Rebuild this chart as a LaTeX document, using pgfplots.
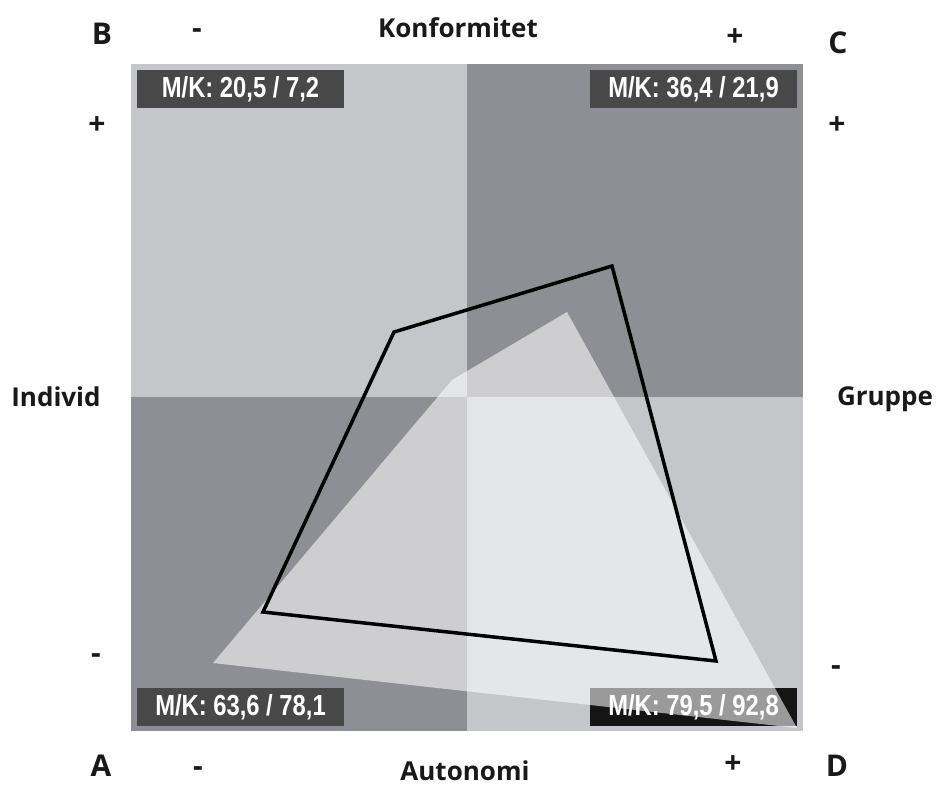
\documentclass[border=0pt]{standalone}
\usepackage{pgfplots}
\pgfplotsset{compat=1.18}
\usepackage{fontspec}
\setmainfont{Open Sans}
\newfontfamily\narrowfont[FakeStretch=0.82]{Liberation Sans}
\definecolor{lightq}{HTML}{C5C6CA}
\definecolor{darkq}{HTML}{8E8F94}
\definecolor{boxg}{HTML}{484848}
\definecolor{boxk}{HTML}{151515}
\begin{document}
\begin{tikzpicture}
\begin{axis}[width=941pt,height=785pt,scale only axis,
  xmin=0,xmax=941,ymin=0,ymax=785,y dir=reverse,hide axis,clip=false]
\path (rel axis cs:0,0) rectangle (rel axis cs:1,1);
% quadrants
\addplot[fill=lightq,draw=none] coordinates {(131,64)(467,64)(467,397)(131,397)} -- cycle;
\addplot[fill=darkq,draw=none] coordinates {(467,64)(803,64)(803,397)(467,397)} -- cycle;
\addplot[fill=darkq,draw=none] coordinates {(131,397)(467,397)(467,731)(131,731)} -- cycle;
\addplot[fill=lightq,draw=none] coordinates {(467,397)(803,397)(803,731)(467,731)} -- cycle;
% label boxes
\addplot[fill=boxg,draw=none] coordinates {(137,70)(344,70)(344,108)(137,108)} -- cycle;
\addplot[fill=boxg,draw=none] coordinates {(590,70)(797,70)(797,108)(590,108)} -- cycle;
\addplot[fill=boxg,draw=none] coordinates {(137,688)(344,688)(344,726)(137,726)} -- cycle;
\addplot[fill=boxk,draw=none] coordinates {(590,688)(797,688)(797,726)(590,726)} -- cycle;
% light polygon
\addplot[fill=white,fill opacity=0.57,draw=none] coordinates {(213,663)(452,380)(567,312)(797,728)} -- cycle;
% outline polygon
\addplot[draw=black,line width=3.5pt,line join=miter] coordinates {(394,332)(612,266)(716,661)(263,612)} -- cycle;
% box texts
\begin{scope}[every node/.style={text=white,font=\narrowfont\bfseries\fontsize{29}{30}\selectfont,inner sep=0pt}]
\node at (axis cs:240.5,89) {M/K: 20,5 / 7,2};
\node at (axis cs:693.5,89) {M/K: 36,4 / 21,9};
\node at (axis cs:240.5,707) {M/K: 63,6 / 78,1};
\node at (axis cs:693.5,707) {M/K: 79,5 / 92,8};
\end{scope}
% outer texts
\begin{scope}[every node/.style={text=black!90,font=\bfseries\fontsize{26}{30}\selectfont,inner sep=0pt}]
\node[anchor=base] at (axis cs:458,37) {Konformitet};
\node[anchor=base] at (axis cs:465,780) {Autonomi};
\node[anchor=base] at (axis cs:56,406) {Individ};
\node[anchor=base] at (axis cs:885,405) {Gruppe};
\end{scope}
\begin{scope}[every node/.style={text=black!90,font=\bfseries\fontsize{30}{34}\selectfont,inner sep=0pt}]
\node[anchor=base] at (axis cs:102,44) {B};
\node[anchor=base] at (axis cs:838,53) {C};
\node[anchor=base] at (axis cs:101,776) {A};
\node[anchor=base] at (axis cs:837,776) {D};
\node at (axis cs:197,34) {-};
\node at (axis cs:735,38) {+};
\node at (axis cs:97,126) {+};
\node at (axis cs:837,126) {+};
\node at (axis cs:96,659) {-};
\node at (axis cs:836,671) {-};
\node at (axis cs:198,772) {-};
\node at (axis cs:733,765) {+};
\end{scope}
\end{axis}
\end{tikzpicture}
\end{document}
